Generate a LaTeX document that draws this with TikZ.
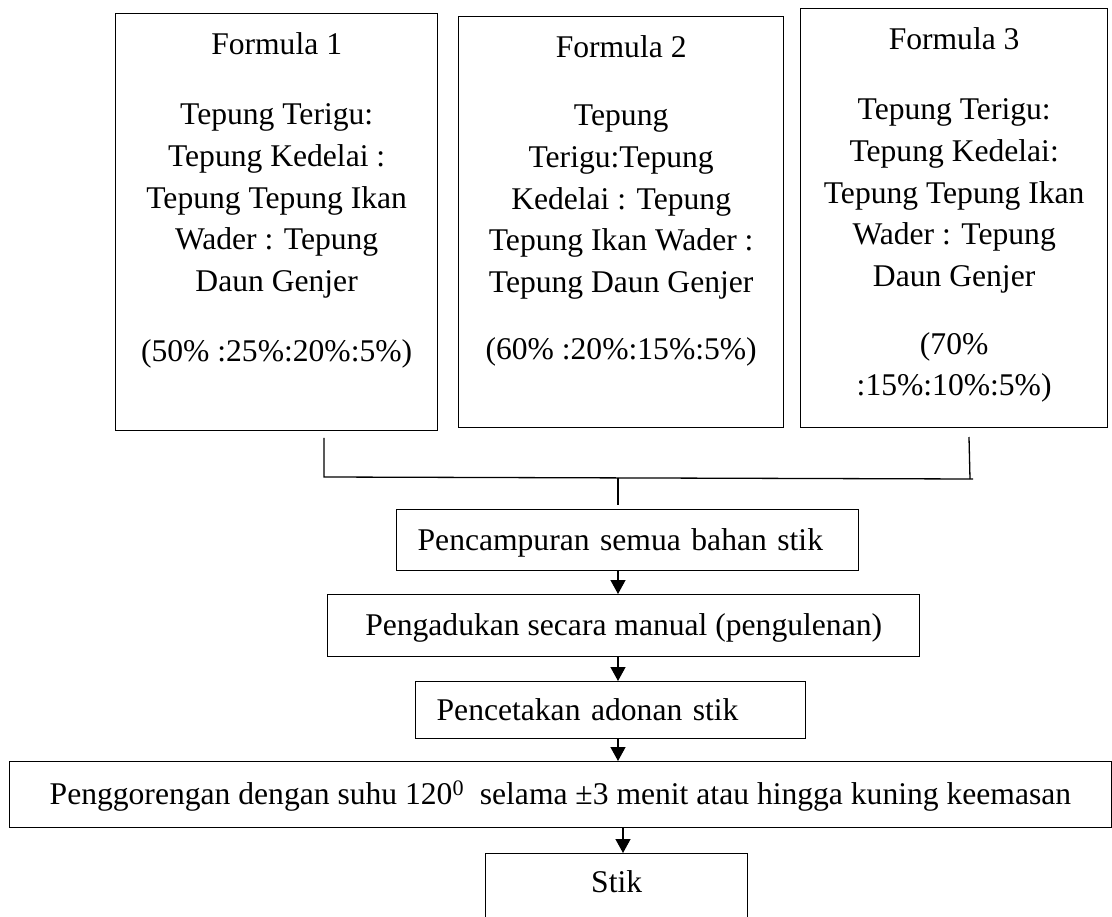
\documentclass[tikz,border=0pt]{standalone}
\usepackage{fontspec}
\setmainfont{Liberation Serif}
\usetikzlibrary{arrows.meta}

\begin{document}
\begin{tikzpicture}[x=1pt,y=-1pt,
        font=\fontsize{31.6}{41.7}\selectfont,
        line width=1.3pt,
        kotak/.style={draw, inner sep=0pt, anchor=north west},
        isi/.style={anchor=north, align=center, inner sep=0pt},
        langkah/.style={draw, anchor=north west, inner xsep=21pt, inner ysep=0pt,
            text height=25pt, text depth=5pt},
        panah/.style={-{Triangle[length=14pt,width=15pt]}}]
        \clip (0,0) rectangle (1112,917);
        \pgfmathsetmacro{\geserIsi}{19.4} % jarak atas kotak ke baris pertama
        
        % tiga kotak formula
        \foreach \n/\x/\y/\w/\h in
        {f1/115/13/322/417,
            f2/458/16/325/411,
            f3/800/8/307/419
        }
        {
            \node[kotak, minimum width=\w pt, minimum height=\h pt] (\n) at (\x,\y) {};
        };
        \node[isi] (t1) at ([yshift=-\geserIsi pt]f1.north) {Formula 1\\[28pt]
            Tepung Terigu:\\ Tepung Kedelai :\\ Tepung Tepung Ikan\\ Wader : Tepung\\ Daun Genjer\\[28pt]
            (50\% :25\%:20\%:5\%)};
        \node[isi] (t2) at ([yshift=-\geserIsi pt]f2.north) {Formula 2\\[26pt]
            Tepung\\ Terigu:Tepung\\ Kedelai : Tepung\\ Tepung Ikan Wader :\\ Tepung Daun Genjer\\[25pt]
            (60\% :20\%:15\%:5\%)};
        \node[isi] (t3) at ([yshift=-\geserIsi pt]f3.north) {Formula 3\\[28pt]
            Tepung Terigu:\\ Tepung Kedelai:\\ Tepung Tepung Ikan\\ Wader : Tepung\\ Daun Genjer\\[26pt]
            (70\%\\ :15\%:10\%:5\%)};
        
        % langkah proses
        \node[langkah, minimum width=462pt, minimum height=61pt, text width=420pt, align=left]
            (campur) at (396,509) {Pencampuran semua bahan stik};
        \node[langkah, minimum width=592pt, minimum height=62pt]
            (aduk) at (327,594) {Pengadukan secara manual (pengulenan)};
        \node[langkah, minimum width=390pt, minimum height=57pt, text width=348pt, align=left]
            (cetak) at (415,681) {Pencetakan adonan stik};
        \node[langkah, minimum width=1101.5pt, minimum height=66pt]
            (goreng) at (9,761) {Penggorengan dengan suhu 120\textsuperscript{0}\ \ selama ±3 menit atau hingga kuning keemasan};
        \node[kotak, minimum width=262pt, inner ysep=17.4pt, text height=21.6pt, text depth=35pt]
            (stik) at (485,853) {Stik};
        
        % garis penggabung
        \coordinate (g1) at (324,438);
        \coordinate (g2) at (324,477);
        \coordinate (g3) at (973,479);
        \coordinate (g4) at (969,437);
        \coordinate (g5) at (970,479);
        \coordinate (g6) at (618,477.5);
        \coordinate (sumbu) at (618,0);
        \coordinate (sumbu2) at (623,0);
        \draw (g1) -- (g2) -- (g3);
        \draw (g4) -- (g5);
        \draw (g6) -- ([yshift=4pt]campur.north -| g6);
        
        \draw[panah] (campur.south -| sumbu) -- (aduk.north -| sumbu);
        \draw[panah] (aduk.south -| sumbu) -- (cetak.north -| sumbu);
        \draw[panah] (cetak.south -| sumbu) -- (goreng.north -| sumbu);
        \draw[panah] (goreng.south -| sumbu2) -- (stik.north -| sumbu2);
\end{tikzpicture}
\end{document}
